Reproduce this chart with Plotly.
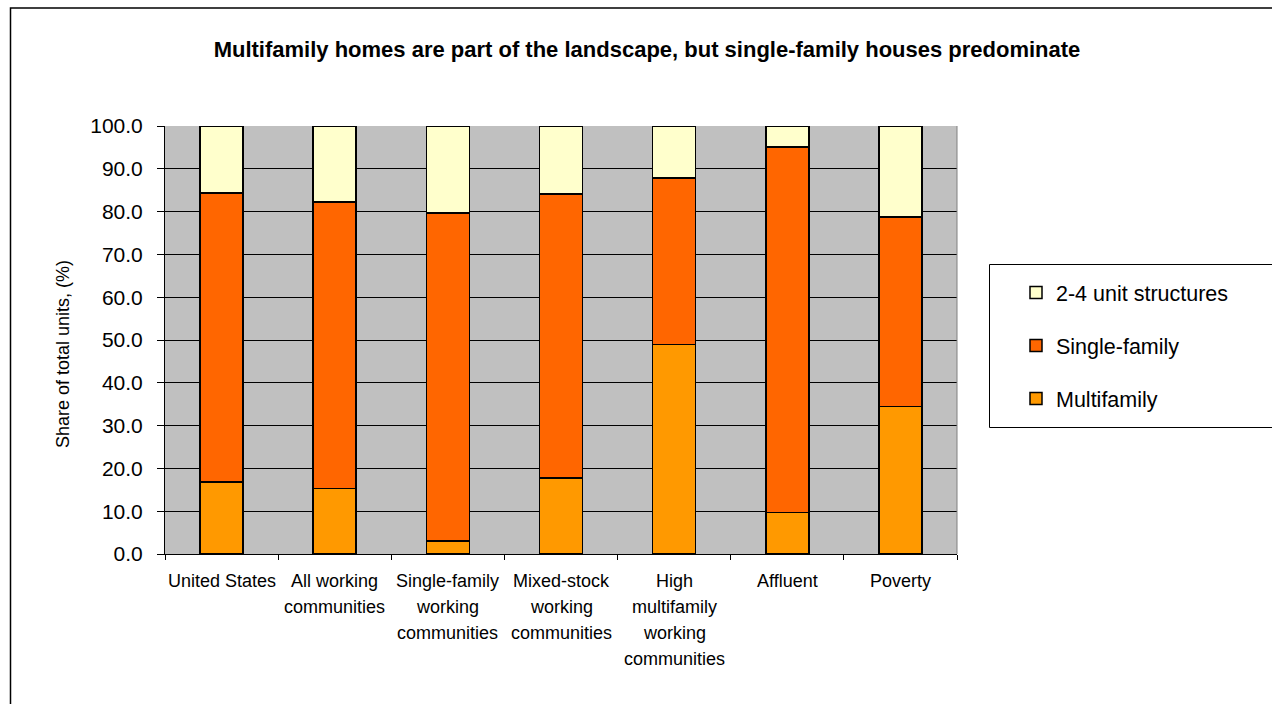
import plotly.graph_objects as go

# Housing stock composition by community type (share of total units, %)
categories = [
    "United States",
    "All working\ncommunities",
    "Single-family\nworking\ncommunities",
    "Mixed-stock\nworking\ncommunities",
    "High\nmultifamily\nworking\ncommunities",
    "Affluent",
    "Poverty",
]
multifamily = [16.8, 15.3, 3.0, 17.7, 48.9, 9.7, 34.5]
single_family = [67.5, 66.9, 76.7, 66.4, 38.9, 85.4, 44.2]
two_to_four = [15.7, 17.8, 20.3, 15.9, 12.2, 4.9, 21.3]
y_ticks = [0, 10, 20, 30, 40, 50, 60, 70, 80, 90, 100]

FONT = "Liberation Sans, Arial, sans-serif"
W, H = 1272, 704
L, R, T, B = 165, 957, 126, 554  # plot area edges in pixels


def px_x(p):
    return (p - L) / (R - L)


def px_y(p):
    return (B - p) / (B - T)


fig = go.Figure()
series = [
    ("Multifamily", multifamily, "#FF9900", 3),
    ("Single-family", single_family, "#FF6600", 2),
    ("2-4 unit structures", two_to_four, "#FFFFCC", 1),
]
for name, vals, color, rank in series:
    fig.add_trace(go.Bar(
        x=categories, y=vals, name=name, legendgroup=name, legendrank=rank,
        marker=dict(color=color, line=dict(color="black", width=1.5)),
    ))

annotations = []
# Multi-line category labels under the axis
line_step = 26
for cat in categories:
    for i, line in enumerate(cat.split("\n")):
        annotations.append(dict(
            x=cat, xref="x", y=px_y(581 + i * line_step), yref="paper",
            text=line, showarrow=False, xanchor="center", yanchor="middle",
            font=dict(family=FONT, size=18, color="black"),
        ))
# Y axis title
annotations.append(dict(
    x=px_x(63), xref="paper", y=px_y(354), yref="paper",
    text="Share of total units, (%)", textangle=-90, showarrow=False,
    xanchor="center", yanchor="middle",
    font=dict(family=FONT, size=18, color="black"),
))

shapes = [
    # outer chart frame
    dict(type="rect", xref="paper", yref="paper",
         x0=px_x(10.5), x1=px_x(1300), y0=px_y(8), y1=px_y(760),
         line=dict(color="black", width=1.5), fillcolor="rgba(0,0,0,0)"),
    # legend frame
    dict(type="rect", xref="paper", yref="paper",
         x0=px_x(989.5), x1=px_x(1300), y0=px_y(264.5), y1=px_y(427.5),
         line=dict(color="black", width=1), fillcolor="rgba(0,0,0,0)"),
    # right edge of plot area
    dict(type="line", xref="paper", yref="paper",
         x0=1, x1=1, y0=0, y1=1, line=dict(color="#808080", width=1)),
]

fig.update_layout(
    width=W, height=H,
    margin=dict(l=L, r=W - R, t=T, b=H - B, pad=0),
    paper_bgcolor="white", plot_bgcolor="#C0C0C0",
    barmode="stack", bargap=0.62,
    font=dict(family=FONT, color="black"),
    title=dict(
        text="<b>Multifamily homes are part of the landscape, but single-family houses predominate</b>",
        x=647 / W, xref="container", xanchor="center",
        y=1 - 49 / H, yref="container", yanchor="middle",
        font=dict(family=FONT, size=22, color="black"),
    ),
    legend=dict(
        x=px_x(1016), xanchor="left", y=px_y(272), yanchor="top",
        traceorder="grouped", tracegroupgap=22,
        font=dict(family=FONT, size=21.5, color="black"),
        bgcolor="rgba(0,0,0,0)", borderwidth=0,
    ),
    xaxis=dict(
        type="category", showticklabels=False, showgrid=False,
        showline=True, linecolor="black", linewidth=1,
        ticks="outside", tickson="boundaries", ticklen=5,
        tickcolor="black", tickwidth=1, zeroline=False,
    ),
    yaxis=dict(
        range=[0, 100], tickvals=y_ticks, tickformat=".1f",
        showgrid=True, gridcolor="black", gridwidth=1,
        showline=True, linecolor="black", linewidth=1,
        ticks="outside", ticklen=7, tickcolor="black", tickwidth=1,
        ticklabelstandoff=10, zeroline=False,
        tickfont=dict(family=FONT, size=21, color="black"),
    ),
    annotations=annotations,
    shapes=shapes,
)

fig.write_html("out.html")
